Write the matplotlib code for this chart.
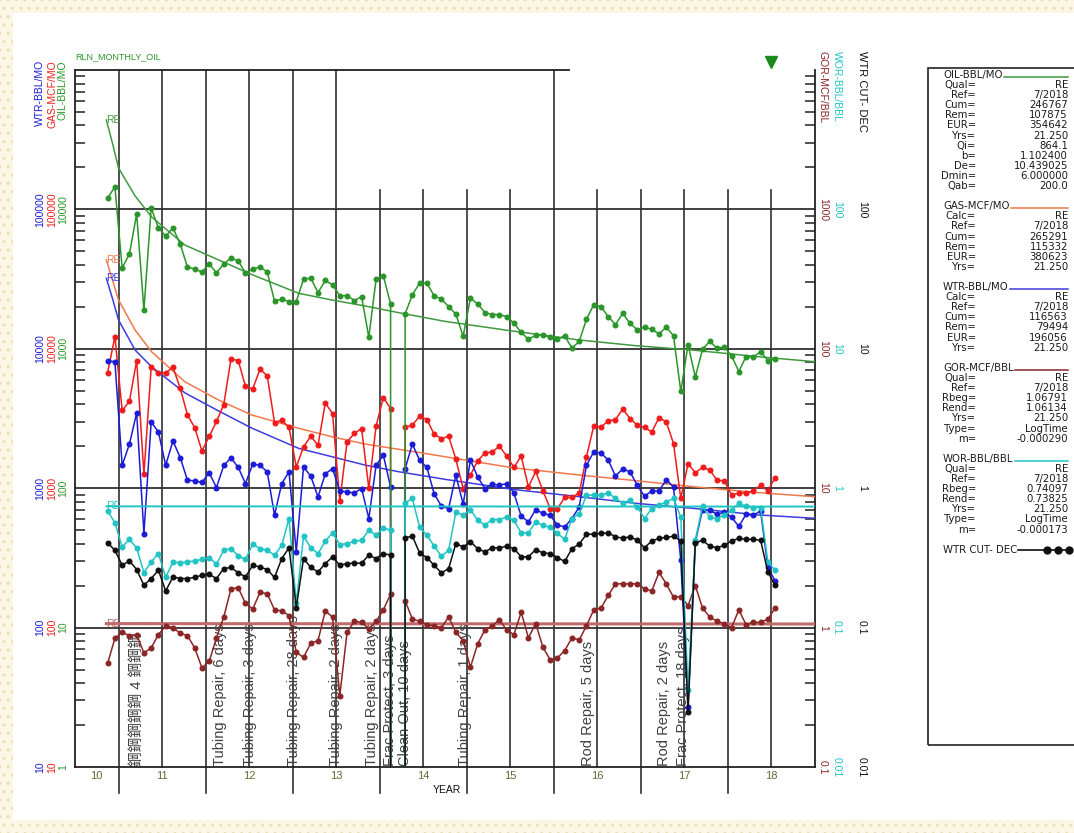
import numpy as np
import pandas as pd
import matplotlib
matplotlib.use("Agg")
import matplotlib.pyplot as plt
from matplotlib import transforms
from matplotlib.lines import Line2D
from matplotlib.patches import Rectangle
from matplotlib.ticker import LogLocator, NullFormatter

plt.rcParams['font.family'] = ['Liberation Sans', 'Noto Sans CJK SC', 'DejaVu Sans']

# ---- monthly production, May 2010 .. Jan 2018 ----
dates = pd.date_range("2010-05-01", "2018-01-01", freq="MS")

oil = [12080, 14490, 3800, 4790, 9270, 1900, 10230, 7360, 6440, 7360,
       5650, 3860, 3730, 3560, 4060, 3500, 4060, 4480, 4270, 3500,
       3730, 3860, 3560, 2200, 2270, 2180, 2180, 3160, 3210, 2530,
       3090, 2880, 2400, 2410, 2220, 2370, 1210, 3160, 3340, 2100,
       0, 1780, 2440, 2960, 2960, 2400, 2270, 2010, 1770, 1230,
       2310, 2100, 1820, 1760, 1760, 1700, 1530, 1310, 1170, 1250,
       1260, 1210, 1170, 1240, 1010, 1130, 1630, 2070, 2010, 1700,
       1490, 1800, 1520, 1370, 1430, 1380, 1280, 1430, 1240, 494,
       1070, 627, 995, 1130, 1010, 1030, 891, 687, 880, 872,
       956, 824, 845]

gas = [6760, 12250, 3610, 4190, 8240, 1260, 7390, 6700, 6700, 7390,
       5220, 3360, 2720, 1850, 2350, 3010, 3970, 8440, 8240, 5370,
       5160, 7150, 6400, 2960, 3080, 2730, 1420, 1980, 2360, 2030,
       4090, 3430, 811, 2150, 2470, 2680, 1000, 2790, 4470, 3730,
       0, 2730, 2830, 3290, 3110, 2440, 2270, 2360, 1610, 995,
       1240, 1570, 1790, 1820, 2000, 1700, 1410, 1700, 1020, 1320,
       956, 715, 715, 858, 858, 925, 1680, 2790, 2750, 3040,
       3110, 3690, 3160, 2830, 2730, 2530, 3210, 2990, 2090, 844,
       1500, 1290, 1410, 1350, 1140, 1130, 891, 925, 925, 956,
       1050, 956, 1190]

water = [8200, 8070, 1460, 2070, 3470, 473, 2990, 2530, 1460, 2180,
         1660, 1140, 1130, 1100, 1290, 1010, 1455, 1650, 1410, 1080,
         1490, 1460, 1310, 640, 1080, 1310, 349, 1420, 1220, 866,
         1270, 1380, 956, 941, 925, 995, 606, 1460, 1725, 1020,
         0, 1380, 2070, 1590, 1410, 916, 743, 715, 1240, 768,
         1590, 1205, 995, 1070, 1050, 1080, 925, 630, 573, 703,
         659, 640, 543, 528, 606, 734, 1460, 1820, 1790, 1590,
         1220, 1380, 1310, 1050, 876, 956, 956, 1150, 1020, 305,
         26.9, 412, 703, 695, 650, 675, 620, 532, 650, 640,
         687, 272, 216]

wor = [0.687, 0.564, 0.379, 0.429, 0.373, 0.248, 0.296, 0.340, 0.229, 0.296,
       0.291, 0.296, 0.301, 0.308, 0.318, 0.285, 0.359, 0.369, 0.327, 0.308,
       0.397, 0.369, 0.359, 0.330, 0.390, 0.606, 0.149, 0.453, 0.373, 0.340,
       0.417, 0.478, 0.394, 0.400, 0.418, 0.423, 0.500, 0.460, 0.519, 0.500,
       0, 0.785, 0.844, 0.525, 0.460, 0.384, 0.325, 0.359, 0.673, 0.641,
       0.703, 0.589, 0.543, 0.596, 0.596, 0.620, 0.589, 0.478, 0.478, 0.573,
       0.543, 0.523, 0.474, 0.430, 0.606, 0.656, 0.891, 0.891, 0.891, 0.925,
       0.844, 0.777, 0.820, 0.734, 0.606, 0.715, 0.755, 0.797, 0.844, 0.620,
       0.0356, 0.423, 0.743, 0.620, 0.606, 0.641, 0.695, 0.777, 0.743, 0.727,
       0.727, 0.296, 0.258]

wtr_cut = [0.405, 0.359, 0.280, 0.301, 0.261, 0.201, 0.225, 0.258, 0.183, 0.231,
           0.225, 0.225, 0.229, 0.238, 0.241, 0.225, 0.265, 0.270, 0.247, 0.231,
           0.280, 0.272, 0.261, 0.229, 0.313, 0.373, 0.139, 0.313, 0.270, 0.251,
           0.288, 0.322, 0.280, 0.288, 0.290, 0.290, 0.331, 0.313, 0.340, 0.331,
           0, 0.440, 0.453, 0.343, 0.318, 0.280, 0.247, 0.265, 0.401, 0.379,
           0.413, 0.369, 0.349, 0.374, 0.373, 0.384, 0.369, 0.322, 0.322, 0.363,
           0.343, 0.340, 0.318, 0.298, 0.369, 0.397, 0.468, 0.468, 0.474, 0.478,
           0.449, 0.437, 0.449, 0.423, 0.374, 0.418, 0.437, 0.443, 0.453, 0.418,
           0.0247, 0.405, 0.423, 0.384, 0.374, 0.389, 0.418, 0.437, 0.430, 0.430,
           0.423, 0.251, 0.201]

gor = [0.555, 0.838, 0.925, 0.876, 0.891, 0.659, 0.715, 0.891, 1.03, 1.00,
       0.910, 0.876, 0.715, 0.514, 0.573, 0.844, 1.19, 1.90, 1.93, 1.49,
       1.36, 1.79, 1.75, 1.34, 1.32, 1.22, 0.665, 0.612, 0.772, 0.807,
       1.32, 1.19, 0.325, 0.925, 1.11, 1.09, 0.98, 1.11, 1.34, 1.74,
       0, 1.56, 1.15, 1.11, 1.05, 1.03, 1.00, 1.19, 0.925, 0.807,
       0.519, 0.764, 0.963, 1.03, 1.14, 0.963, 0.891, 1.29, 0.844, 1.07,
       0.722, 0.587, 0.606, 0.684, 0.844, 0.816, 1.03, 1.34, 1.38, 1.70,
       2.06, 2.06, 2.06, 2.06, 1.90, 1.83, 2.49, 2.06, 1.65, 1.67,
       1.44, 2.00, 1.38, 1.19, 1.11, 1.07, 1.00, 1.34, 1.05, 1.09,
       1.09, 1.15, 1.38]

# ---- RE forecasts ----
fc_years = [10.36, 10.43, 10.50, 10.69, 10.88, 11.26, 11.65, 12.03, 12.57, 12.95,
            13.33, 13.72, 14.25, 15.02, 15.79, 16.44, 17.09, 17.85, 18.50]
oil_fc = [43750, 29900, 19800, 12500, 8830, 5560, 4340, 3410, 2500, 2240,
          2030, 1815, 1573, 1343, 1157, 1053, 980, 877, 808]
gas_fc = [43350, 31200, 22390, 13650, 9530, 5810, 4290, 3350, 2690, 2340,
          2075, 1900, 1683, 1403, 1244, 1133, 1026, 929, 869]
water_fc = [32060, 23000, 16100, 9800, 7430, 4840, 3580, 2700, 1930, 1683,
            1466, 1312, 1158, 982, 869, 779, 718, 643, 608]
ratio_fc_years = [10.36, 18.50]
gor_fc = [1.06791, 1.06134]
wor_fc = [0.74097, 0.73825]

# ---- well events ----
event_years = [10.71, 11.67, 12.01, 12.51, 13.00, 13.41, 13.62, 13.79,
               14.48, 15.89, 16.76, 16.98]
event_text = ["鋼鋼鋼鋼鋼 4 鋼鋼鋼", "Tubing Repair, 6 days", "Tubing Repair, 3 days",
              "Tubing Repair, 28 days", "Tubing Repair, 2 days", "Tubing Repair, 2 days",
              "Frac Protect, 3 days", "Clean Out, 10 days", "Tubing Repair, 1 days",
              "Rod Repair, 5 days", "Rod Repair, 2 days", "Frac Protect, 18 days"]
last_prod_year = 18.0

year_labels = [10, 11, 12, 13, 14, 15, 16, 17, 18]
rate_ticks = [10, 100, 1000, 10000, 100000]
oil_ticks = [1, 10, 100, 1000, 10000]
gor_ticks = [0.1, 1, 10, 100, 1000]
ratio_ticks = [0.01, 0.1, 1, 10, 100]

# ---- styling ----
c_oil, c_oil_fc = '#2a962a', '#3f9a3f'
c_gas, c_gas_fc = '#f01c1c', '#f2784c'
c_wtr, c_wtr_fc = '#1c1cd6', '#3c3ce0'
c_wor = '#20c4c4'
c_cut = '#101010'
c_gor, c_gor_fc = '#8c2626', '#c06a6a'
c_year = '#5e6a36'
W, H = 1074, 833


def fx(px):
    return px / W


def fy(py):
    return 1 - py / H


t = (dates.year - 2000) + (dates.month - 0.5) / 12

fig = plt.figure(figsize=(W / 100, H / 100), dpi=100)

# dotted page border
for x0, y0, w, h in [(0, 0, W, 13), (0, H - 13, W, 13), (0, 0, 13, H)]:
    fig.add_artist(Rectangle((fx(x0), fy(y0 + h)), w / W, h / H, transform=fig.transFigure,
                             facecolor='#fbf6e6', edgecolor='#eadfb8', hatch='..', lw=0,
                             zorder=-5))

ax = fig.add_axes([fx(75), fy(767), (815 - 75) / W, (767 - 70) / H])
ax.set_xlim(10, 18.5)
ax.set_yscale('log')
ax.set_ylim(10, 1e6)


def twin(lo, hi):
    a = ax.twinx()
    a.set_yscale('log')
    a.set_ylim(lo, hi)
    a.set_axis_off()
    return a


ax_oil = twin(1, 1e5)
ax_gor = twin(0.1, 1e4)
ax_wor = twin(0.01, 1e3)
ax_cut = twin(0.01, 1e3)

# frame
for side in ['left', 'bottom', 'right']:
    ax.spines[side].set_linewidth(1.3)
    ax.spines[side].set_color('#222222')
ax.spines['top'].set_visible(False)
ax.plot([10, 15.67], [1e6, 1e6], color='#222222', lw=1.3, clip_on=False)
ax.set_xticks([])
ax.yaxis.set_major_locator(LogLocator(base=10))
ax.yaxis.set_minor_locator(LogLocator(base=10, subs=np.arange(2, 10)))
ax.yaxis.set_major_formatter(NullFormatter())
ax.yaxis.set_minor_formatter(NullFormatter())
ax.tick_params(axis='y', which='both', direction='in', left=True, right=True,
               labelleft=False, labelright=False)
ax.tick_params(axis='y', which='major', length=0)
ax.tick_params(axis='y', which='minor', length=7, width=1.1, color='#222222')

# grid
for v in [100, 1000, 10000, 100000]:
    ax.axhline(v, color='#303030', lw=1.3, zorder=1)
xt = ax.get_xaxis_transform()
for x in np.arange(10.5, 18.5, 0.5):
    half = (x % 1) != 0
    top = 1.0 if (x <= 13.0 or x == 15.5) else 0.828
    bottom = -0.037 if half else 0.0
    ax.plot([x, x], [bottom, top], transform=xt, color='#303030', lw=1.2,
            clip_on=False, zorder=1)

# event annotations
for x, s in zip(event_years, event_text):
    ax.text(x, 0.002, s, transform=xt, rotation=90, ha='center', va='bottom',
            fontsize=10.5, color='#404040', zorder=2)

# forecasts
ax.plot(fc_years, gas_fc, color=c_gas_fc, lw=1.1, zorder=3)
ax.plot(fc_years, water_fc, color=c_wtr_fc, lw=1.1, zorder=3)
ax_oil.plot(fc_years, oil_fc, color=c_oil_fc, lw=1.1)
ax_gor.plot(ratio_fc_years, gor_fc, color=c_gor_fc, lw=2.2)
ax_wor.plot(ratio_fc_years, wor_fc, color=c_wor, lw=1.4)
for a, yrs, vals, c in [(ax, fc_years, gas_fc, c_gas_fc), (ax, fc_years, water_fc, c_wtr_fc),
                        (ax_oil, fc_years, oil_fc, c_oil_fc),
                        (ax_gor, ratio_fc_years, gor_fc, c_gor_fc),
                        (ax_wor, ratio_fc_years, wor_fc, c_wor)]:
    a.text(yrs[0], vals[0], 'RE', color=c, fontsize=7.5, ha='left', va='center')

# monthly data
mk = dict(marker='o', markersize=3.3, lw=1.1)
ax.plot(t, gas, color=c_gas, zorder=4, **mk)
ax.plot(t, water, color=c_wtr, zorder=4, **mk)
ax_oil.plot(t, oil, color=c_oil, **mk)
ax_gor.plot(t, gor, color=c_gor, **mk)
ax_wor.plot(t, wor, color=c_wor, **mk)
ax_cut.plot(t, wtr_cut, color=c_cut, **mk)

# last-production flag above the frame
ax.plot([last_prod_year], [1.012], transform=xt, marker='v', color='#1a8a1a',
        markersize=8, clip_on=False, lw=0)

# tick label columns
blend = transforms.blended_transform_factory
tick_cols = [(40, ax, rate_ticks, c_wtr, 90), (52, ax, rate_ticks, c_gas, 90),
             (63, ax_oil, oil_ticks, c_oil, 90), (823, ax_gor, gor_ticks, c_gor, 270),
             (837, ax_wor, ratio_ticks, c_wor, 270), (862, ax_cut, ratio_ticks, c_cut, 270)]
for px, a, ticks, c, rot in tick_cols:
    tr = blend(fig.transFigure, a.transData)
    for v in ticks:
        ax.text(fx(px), v, '%g' % v, transform=tr, rotation=rot, ha='center',
                va='center', fontsize=7.5, color=c)

# axis titles
for px, s, c in [(40, 'WTR-BBL/MO', c_wtr), (52, 'GAS-MCF/MO', c_gas), (63, 'OIL-BBL/MO', c_oil)]:
    fig.text(fx(px), fy(60), s, rotation=90, ha='center', va='top', fontsize=7.5, color=c)
for px, s, c, fs in [(823, 'GOR-MCF/BBL', c_gor, 7.5), (837, 'WOR-BBL/BBL', c_wor, 7.5),
                     (862, 'WTR CUT- DEC', c_cut, 8)]:
    fig.text(fx(px), fy(51), s, rotation=270, ha='center', va='top', fontsize=fs, color=c)
fig.text(fx(75), fy(57), 'RLN_MONTHLY_OIL', fontsize=6.5, color=c_oil, ha='left', va='center')

# year labels
for yr in year_labels:
    xpos = yr if yr > 10 else 10.24
    ax.text(xpos, -0.013, str(yr), transform=xt, ha='center', va='center',
            fontsize=8, color=c_year)
fig.text(fx(447), fy(790), 'YEAR', ha='center', va='center', fontsize=7.5, color='#111111')

# legend panel
fig.add_artist(Rectangle((fx(928), fy(745)), fx(1090) - fx(928), fy(68) - fy(745),
                         transform=fig.transFigure, fill=False, lw=1.2, ec='#222222'))
legend_groups = [
    ('OIL-BBL/MO', c_oil_fc, [('Qual=', 'RE'), ('Ref=', '7/2018'), ('Cum=', '246767'),
                             ('Rem=', '107875'), ('EUR=', '354642'), ('Yrs=', '21.250'),
                             ('Qi=', '864.1'), ('b=', '1.102400'), ('De=', '10.439025'),
                             ('Dmin=', '6.000000'), ('Qab=', '200.0')]),
    ('GAS-MCF/MO', c_gas_fc, [('Calc=', 'RE'), ('Ref=', '7/2018'), ('Cum=', '265291'),
                             ('Rem=', '115332'), ('EUR=', '380623'), ('Yrs=', '21.250')]),
    ('WTR-BBL/MO', c_wtr_fc, [('Calc=', 'RE'), ('Ref=', '7/2018'), ('Cum=', '116563'),
                             ('Rem=', '79494'), ('EUR=', '196056'), ('Yrs=', '21.250')]),
    ('GOR-MCF/BBL', c_gor, [('Qual=', 'RE'), ('Ref=', '7/2018'), ('Rbeg=', '1.06791'),
                           ('Rend=', '1.06134'), ('Yrs=', '21.250'), ('Type=', 'LogTime'),
                           ('m=', '-0.000290')]),
    ('WOR-BBL/BBL', c_wor, [('Qual=', 'RE'), ('Ref=', '7/2018'), ('Rbeg=', '0.74097'),
                           ('Rend=', '0.73825'), ('Yrs=', '21.250'), ('Type=', 'LogTime'),
                           ('m=', '-0.000173')]),
]
renderer = fig.canvas.get_renderer()
pitch = 10.1
y = 75
lfont = dict(fontsize=7.3, family='DejaVu Sans', color='#1a1a1a', va='center')
for head, c, rows in legend_groups:
    h = fig.text(fx(943), fy(y), head, ha='left', **lfont)
    x1 = h.get_window_extent(renderer).x1
    fig.add_artist(Line2D([x1 / W + 0.001, fx(1068)], [fy(y + 2)] * 2, transform=fig.transFigure,
                          color=c, lw=1.1))
    for k, v in rows:
        y += pitch
        fig.text(fx(976), fy(y), k, ha='right', **lfont)
        fig.text(fx(1068), fy(y), v, ha='right', **lfont)
    y += 2 * pitch
h = fig.text(fx(943), fy(y), 'WTR CUT- DEC', ha='left', **lfont)
x1 = h.get_window_extent(renderer).x1
fig.add_artist(Line2D([x1 / W + 0.001, fx(1047), fx(1058), fx(1069)], [fy(y)] * 4,
                      transform=fig.transFigure, color=c_cut, lw=1.2,
                      marker='o', markersize=5, markevery=[1, 2, 3]))

fig.savefig('out.png', dpi=100)
